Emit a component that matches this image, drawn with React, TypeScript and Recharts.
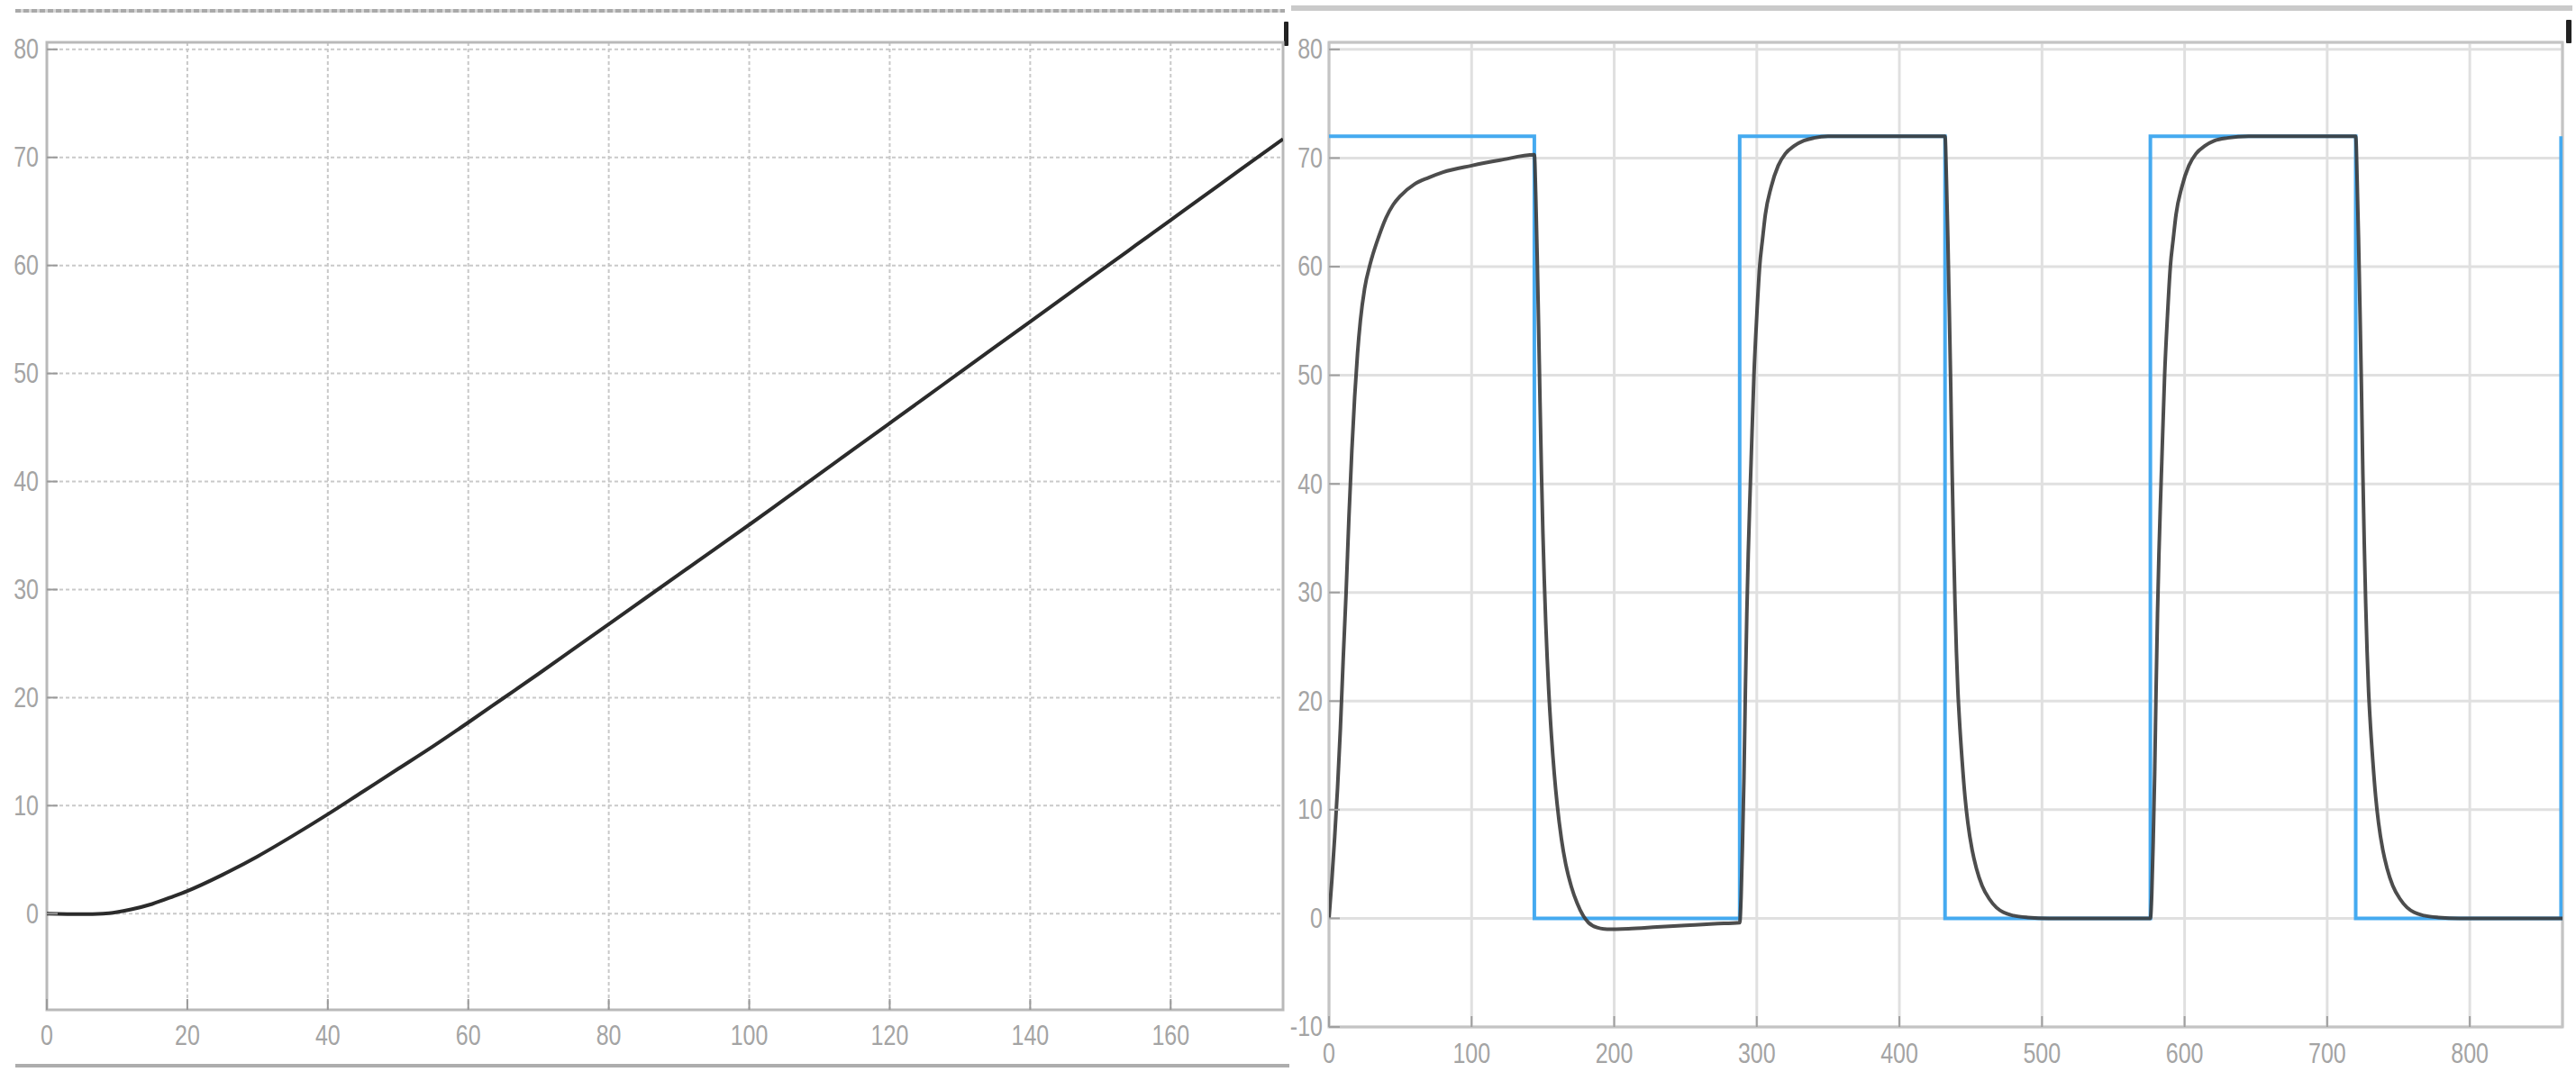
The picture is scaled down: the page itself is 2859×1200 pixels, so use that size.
import React from "react";
import { LineChart, Line, XAxis, YAxis, CartesianGrid, ReferenceArea } from "recharts";

// left scope: ramp response
const rampTime = [
  0, 5, 8, 10, 12, 15, 18, 20, 25, 30, 35, 40, 45, 50, 55, 60, 65, 70, 75, 80, 85, 90, 95, 100, 105,
  110, 115, 120, 125, 130, 135, 140, 145, 150, 155, 160, 165, 170, 176,
];
const rampValue = [
  0, -0.05, 0, 0.15, 0.4, 0.9, 1.6, 2.1, 3.6, 5.3, 7.2, 9.2, 11.3, 13.4, 15.5, 17.7, 19.95, 22.2, 24.5,
  26.8, 29.1, 31.4, 33.7, 36.0, 38.35, 40.7, 43.05, 45.4, 47.75, 50.1, 52.45, 54.8, 57.15, 59.5, 61.85,
  64.2, 66.55, 68.9, 71.7,
];
const rampXTicks = [0, 20, 40, 60, 80, 100, 120, 140, 160];
const rampYTicks = [0, 10, 20, 30, 40, 50, 60, 70, 80];

// right scope: square wave reference (blue)
const stepTime = [0, 144, 144, 288, 288, 432, 432, 576, 576, 720, 720, 864, 864];
const stepValue = [72, 72, 0, 0, 72, 72, 0, 0, 72, 72, 0, 0, 72];

// right scope: plant output (black)
const respTime = [
  0, 2, 4, 6, 8, 10, 12, 14, 16, 18, 20, 22, 25, 29, 35, 40, 45, 50, 60, 70, 80, 100, 120, 144,
  145, 146, 147, 148, 149, 150, 151, 152, 153, 154, 156, 158, 160, 163, 166, 170, 174, 178, 182, 188,
  195, 210, 230, 250, 270, 288,
  289, 290, 291, 292, 293, 294, 295, 296, 298, 300, 302, 304, 306, 310, 315, 320, 326, 333, 340, 350, 432,
  433, 434, 435, 436, 437, 438, 439, 440, 441, 442, 444, 446, 448, 451, 454, 458, 463, 468, 473, 480,
  490, 505, 576,
  577, 578, 579, 580, 581, 582, 583, 584, 586, 588, 590, 592, 594, 598, 603, 608, 614, 621, 630, 645, 720,
  721, 722, 723, 724, 725, 726, 727, 728, 729, 730, 732, 734, 736, 739, 742, 746, 751, 756, 761, 768,
  778, 793, 865,
];
const respValue = [
  0, 3.5, 7.5, 12, 17.5, 24, 30, 37, 43, 48, 52, 55, 58, 60.3, 62.8, 64.5, 65.7, 66.5, 67.6, 68.2,
  68.7, 69.3, 69.8, 70.3,
  66.5, 61, 54.5, 47.5, 41, 35.5, 31, 27.2, 24, 21.2, 16.8, 13.3, 10.5, 7.3, 5.0, 2.9, 1.4, 0.3,
  -0.4, -0.85, -1.0, -0.95, -0.8, -0.65, -0.5, -0.4,
  2, 7, 13, 21, 28, 33.5, 38, 42, 50, 55.5, 60, 62.5, 64.8, 67.3, 69.3, 70.4, 71.1, 71.6, 71.85, 72, 72,
  68, 62.5, 56, 49, 41, 34.5, 29, 24.5, 21, 18.5, 14.5, 11.2, 8.8, 6.3, 4.6, 3.0, 1.8, 1.0, 0.55, 0.25,
  0.08, 0, 0,
  2.3, 7.2, 13.2, 21, 28, 33.5, 38, 42, 50, 55.5, 60, 62.5, 64.8, 67.3, 69.3, 70.4, 71.1, 71.6, 71.85, 72, 72,
  68, 62.5, 56, 49, 41, 34.5, 29, 24.5, 21, 18.5, 14.5, 11.2, 8.8, 6.3, 4.6, 3.0, 1.8, 1.0, 0.55, 0.25,
  0.08, 0, 0,
];
const scopeXTicks = [0, 100, 200, 300, 400, 500, 600, 700, 800];
const scopeYTicks = [-10, 0, 10, 20, 30, 40, 50, 60, 70, 80];

const rampData = rampTime.map((t, i) => ({ t, v: rampValue[i] }));
const stepData = stepTime.map((t, i) => ({ t, v: stepValue[i] }));
const respData = respTime.map((t, i) => ({ t, v: respValue[i] }));

const STRETCH = 1.22;
const labelStyle = {
  fill: "#a4a4a4",
  fontSize: 25,
  fontFamily: "'Liberation Sans', Arial, sans-serif",
};

const stretch = (y: number) => `translate(0 ${y}) scale(1 ${STRETCH}) translate(0 ${-y})`;

const leftTick = (gap: number, color: string) => (props: any) => {
  const { x, y, payload } = props;
  const ax = x + gap;
  return (
    <g>
      <line x1={ax} x2={ax + 12} y1={y} y2={y} stroke={color} strokeWidth={2} />
      <text x={x} y={y} textAnchor="end" dominantBaseline="central" transform={stretch(y)} {...labelStyle}>
        {payload.value}
      </text>
    </g>
  );
};

const bottomTick = (drop: number, color: string) => (props: any) => {
  const { x, y, payload } = props;
  const ty = y + drop;
  return (
    <g>
      <line x1={x} x2={x} y1={y} y2={y - 12} stroke={color} strokeWidth={2} />
      <text x={x} y={ty} textAnchor="middle" dominantBaseline="central" transform={stretch(ty)} {...labelStyle}>
        {payload.value}
      </text>
    </g>
  );
};

const topTick = (color: string) => (props: any) => (
  <line x1={props.x} x2={props.x} y1={props.y} y2={props.y + 12} stroke={color} strokeWidth={2} />
);

const rightTick = (color: string) => (props: any) => (
  <line x1={props.x} x2={props.x - 12} y1={props.y} y2={props.y} stroke={color} strokeWidth={2} />
);

const RAMP_X: [number, number] = [0, 176];
const RAMP_Y: [number, number] = [-8.9, 80.65];
const SCOPE_X: [number, number] = [0, 865];
const SCOPE_Y: [number, number] = [-10, 80.65];

const RampScope = () => (
  <LineChart width={1440} height={1200} data={rampData} margin={{ top: 47, right: 16, bottom: 19, left: 0 }}>
    <CartesianGrid stroke="#c9c9c9" strokeDasharray="4 3" strokeWidth={2} />
    <XAxis
      dataKey="t"
      type="number"
      domain={RAMP_X}
      ticks={rampXTicks}
      interval={0}
      allowDataOverflow
      height={60}
      axisLine={false}
      tickLine={false}
      tickSize={0}
      tickMargin={0}
      tick={bottomTick(29, "#9a9a9a")}
    />
    <XAxis
      xAxisId="top"
      orientation="top"
      type="number"
      domain={RAMP_X}
      ticks={rampXTicks}
      interval={0}
      allowDataOverflow
      height={0}
      axisLine={false}
      tickLine={false}
      tickSize={0}
      tickMargin={0}
      tick={topTick("#9a9a9a")}
    />
    <YAxis
      type="number"
      domain={RAMP_Y}
      ticks={rampYTicks}
      interval={0}
      allowDataOverflow
      width={52}
      axisLine={false}
      tickLine={false}
      tickSize={0}
      tickMargin={9}
      tick={leftTick(9, "#9a9a9a")}
    />
    <YAxis
      yAxisId="right"
      orientation="right"
      type="number"
      domain={RAMP_Y}
      ticks={rampYTicks}
      interval={0}
      allowDataOverflow
      width={0}
      axisLine={false}
      tickLine={false}
      tickSize={0}
      tickMargin={0}
      tick={rightTick("#9a9a9a")}
    />
    <ReferenceArea
      x1={RAMP_X[0]}
      x2={RAMP_X[1]}
      y1={RAMP_Y[0]}
      y2={RAMP_Y[1]}
      fill="none"
      fillOpacity={0}
      stroke="#b9b9b9"
      strokeWidth={3}
    />
    <Line
      type="monotone"
      dataKey="v"
      stroke="#2b2b2b"
      strokeWidth={4}
      dot={false}
      activeDot={false}
      isAnimationActive={false}
    />
  </LineChart>
);

const SquareScope = () => (
  <LineChart width={1427} height={1200} margin={{ top: 47, right: 15, bottom: 0, left: 0 }}>
    <CartesianGrid stroke="#e0e0e0" strokeWidth={3} />
    <XAxis
      dataKey="t"
      type="number"
      domain={SCOPE_X}
      ticks={scopeXTicks}
      interval={0}
      allowDataOverflow
      height={60}
      axisLine={false}
      tickLine={false}
      tickSize={0}
      tickMargin={0}
      tick={bottomTick(30, "#a0a0a0")}
    />
    <XAxis
      xAxisId="top"
      orientation="top"
      type="number"
      domain={SCOPE_X}
      ticks={scopeXTicks}
      interval={0}
      allowDataOverflow
      height={0}
      axisLine={false}
      tickLine={false}
      tickSize={0}
      tickMargin={0}
      tick={topTick("#a0a0a0")}
    />
    <YAxis
      type="number"
      domain={SCOPE_Y}
      ticks={scopeYTicks}
      interval={0}
      allowDataOverflow
      width={43}
      axisLine={false}
      tickLine={false}
      tickSize={0}
      tickMargin={7}
      tick={leftTick(7, "#a0a0a0")}
    />
    <YAxis
      yAxisId="right"
      orientation="right"
      type="number"
      domain={SCOPE_Y}
      ticks={scopeYTicks}
      interval={0}
      allowDataOverflow
      width={0}
      axisLine={false}
      tickLine={false}
      tickSize={0}
      tickMargin={0}
      tick={rightTick("#a0a0a0")}
    />
    <ReferenceArea
      x1={SCOPE_X[0]}
      x2={SCOPE_X[1]}
      y1={SCOPE_Y[0]}
      y2={SCOPE_Y[1]}
      fill="none"
      fillOpacity={0}
      stroke="#c4c4c4"
      strokeWidth={3}
    />
    <Line
      data={stepData}
      type="linear"
      dataKey="v"
      stroke="#45aaf0"
      strokeWidth={4}
      dot={false}
      activeDot={false}
      isAnimationActive={false}
    />
    <Line
      data={respData}
      type="monotone"
      dataKey="v"
      stroke="#3a3a3a"
      strokeOpacity={0.9}
      strokeWidth={4}
      dot={false}
      activeDot={false}
      isAnimationActive={false}
    />
  </LineChart>
);

const bar = (style: React.CSSProperties) => <div style={{ position: "absolute", ...style }} />;

export default function App() {
  return (
    <div
      style={{
        position: "absolute",
        left: 0,
        top: 0,
        width: 2859,
        height: 1200,
        background: "#ffffff",
        overflow: "hidden",
      }}
    >
      {bar({
        left: 17,
        top: 10,
        width: 1409,
        height: 4,
        background: "repeating-linear-gradient(90deg, #a9a9a9 0 6px, #d6d6d6 6px 9px)",
      })}
      {bar({ left: 17, top: 1181, width: 1414, height: 4, background: "#adadad" })}
      {bar({ left: 1433, top: 6, width: 1422, height: 6, background: "#cacaca" })}
      {bar({ left: 1425, top: 24, width: 5, height: 27, background: "#222222", borderRadius: 1 })}
      {bar({ left: 2848, top: 22, width: 6, height: 26, background: "#222222", borderRadius: 1 })}
      <div style={{ position: "absolute", left: 0, top: 0 }}>
        <RampScope />
      </div>
      <div style={{ position: "absolute", left: 1432, top: 0 }}>
        <SquareScope />
      </div>
    </div>
  );
}
